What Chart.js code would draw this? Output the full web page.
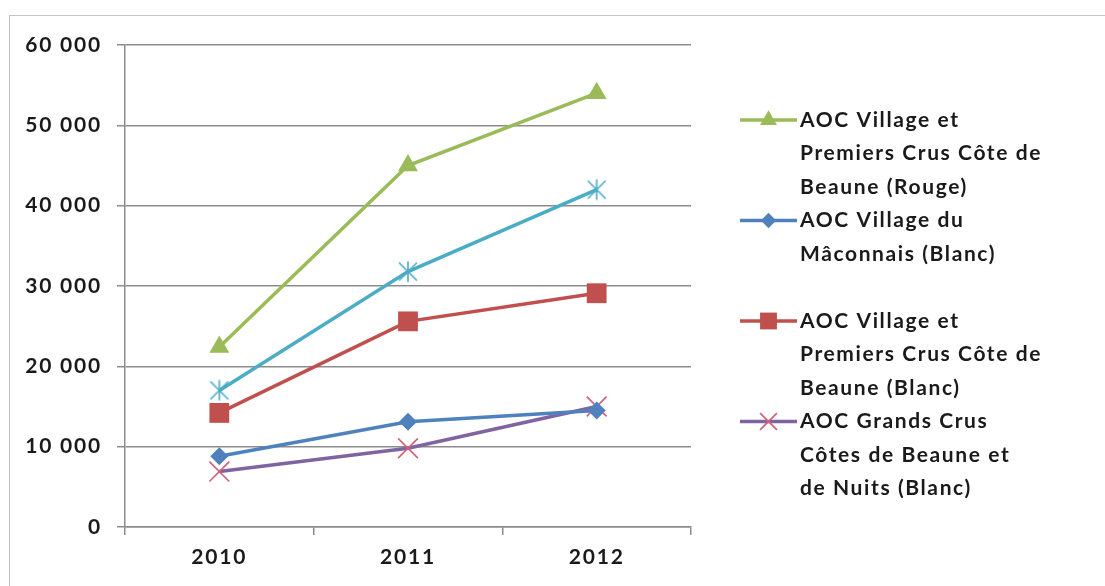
<!DOCTYPE html>
<html>
<head>
<meta charset="utf-8">
<script src="https://cdn.jsdelivr.net/npm/chart.js@4/dist/chart.umd.min.js"></script>
<style>
  html, body { margin: 0; padding: 0; background: #fff; overflow: hidden; }
  #frame { position: absolute; left: 9px; top: 15px; width: 1200px; height: 700px;
           border-left: 1.5px solid #c4c4c4; border-top: 1.5px solid #c4c4c4; }
  #wrap { position: absolute; left: 0; top: 0; width: 1105px; height: 586px; }
</style>
</head>
<body>
<div id="frame"></div>
<div id="wrap"><canvas id="c" width="1105" height="586"></canvas></div>
<script>
// Years on the horizontal axis
const years = ['2010', '2011', '2012'];

// Volumes per appellation
const rougeCoteBeaune = [22400, 45000, 54000];
const villageMaconnais = [8800, 13100, 14500];
const blancCoteBeaune = [14200, 25600, 29100];
const grandsCrusBlanc = [6900, 9800, 15000];
const cyanSeries = [17000, 31800, 42000];

// Y axis tick values
const yTicks = [0, 10000, 20000, 30000, 40000, 50000, 60000];

// Legend labels, one array of lines per entry (null = empty row)
const legendRows = [
  ['AOC Village et', 'Premiers Crus Côte de', 'Beaune (Rouge)'],
  ['AOC Village du', 'Mâconnais (Blanc)'],
  null,
  ['AOC Village et', 'Premiers Crus Côte de', 'Beaune (Blanc)'],
  ['AOC Grands Crus', 'Côtes de Beaune et', 'de Nuits (Blanc)']
];

const FONT = 'Lato';
const SPACING = '1.8px';
const LEGEND_SPACING = '1.6px';
const GREEN = '#9BBB59', BLUE = '#4F81BD', RED = '#C0504D', PURPLE = '#8064A2', CYAN = '#4BACC6';

// Asterisk-style marker: an X with a vertical stroke
function starMarker(color, r) {
  const s = Math.ceil(r * 2 + 4);
  const cv = document.createElement('canvas');
  cv.width = s; cv.height = s;
  const g = cv.getContext('2d');
  const c = s / 2;
  g.strokeStyle = color; g.lineWidth = 1.6;
  g.beginPath();
  g.moveTo(c - r, c - r); g.lineTo(c + r, c + r);
  g.moveTo(c + r, c - r); g.lineTo(c - r, c + r);
  g.moveTo(c, c - r * 1.15); g.lineTo(c, c + r * 1.15);
  g.stroke();
  return cv;
}

const fmt = v => String(v).replace(/\B(?=(\d{3})+(?!\d))/g, ' ');

const datasets = [
  { label: 'AOC Village et Premiers Crus Côte de Beaune (Blanc)', data: blancCoteBeaune,
    borderColor: RED, backgroundColor: RED, pointStyle: 'rect', pointRadius: 14,
    pointBorderWidth: 0, legendRow: 3 },
  { label: 'AOC Village du Mâconnais (Blanc)', data: villageMaconnais,
    borderColor: BLUE, backgroundColor: BLUE, pointStyle: 'rectRot', pointRadius: 9,
    pointBorderWidth: 0, legendRow: 1 },
  { label: 'AOC Grands Crus Côtes de Beaune et de Nuits (Blanc)', data: grandsCrusBlanc,
    borderColor: PURPLE, backgroundColor: RED, pointStyle: 'crossRot', pointRadius: 14,
    pointBorderColor: '#D0607A', pointBorderWidth: 1.6, legendRow: 4 },
  { label: '', data: cyanSeries,
    borderColor: CYAN, backgroundColor: CYAN, pointStyle: starMarker(CYAN, 9),
    legendRow: null },
  { label: 'AOC Village et Premiers Crus Côte de Beaune (Rouge)', data: rougeCoteBeaune,
    borderColor: GREEN, backgroundColor: GREEN, pointStyle: 'triangle', pointRadius: 11.5,
    pointBorderWidth: 0, legendRow: 0 }
].map(d => Object.assign({ borderWidth: 3.5, tension: 0, fill: false }, d));

// Wider letter spacing for every text drawn on the canvas
const textSpacing = {
  id: 'textSpacing',
  beforeDraw(chart) { chart.ctx.letterSpacing = SPACING; }
};

// Legend drawn at the right of the plot, with line + marker samples
const sideLegend = {
  id: 'sideLegend',
  afterDraw(chart) {
    const ctx = chart.ctx;
    const x0 = 740, x1 = 797, tx = 800, top = 120, lh = 33.5;
    let line = 0;
    legendRows.forEach((rows, idx) => {
      if (!rows) { line += 1; return; }
      const y = top + line * lh;
      const ds = chart.data.datasets.find(d => d.legendRow === idx);
      const meta = chart.getDatasetMeta(chart.data.datasets.indexOf(ds));
      ctx.save();
      ctx.strokeStyle = ds.borderColor; ctx.lineWidth = 3.5;
      ctx.beginPath(); ctx.moveTo(x0, y); ctx.lineTo(x1, y); ctx.stroke();
      const o = meta.data[0].options;
      ctx.fillStyle = o.backgroundColor;
      ctx.strokeStyle = o.borderColor;
      ctx.lineWidth = o.borderWidth;
      Chart.helpers.drawPoint(ctx, { pointStyle: o.pointStyle, radius: o.radius * 0.85,
        rotation: 0, borderWidth: o.borderWidth }, (x0 + x1) / 2, y);
      ctx.letterSpacing = LEGEND_SPACING;
      ctx.fillStyle = '#1a1a1a';
      ctx.font = 'bold 21px ' + FONT;
      ctx.textBaseline = 'middle';
      ctx.textAlign = 'left';
      rows.forEach((t, i) => ctx.fillText(t, tx, top + (line + i) * lh));
      ctx.restore();
      line += rows.length;
    });
  }
};

new Chart(document.getElementById('c'), {
  type: 'line',
  data: { labels: years, datasets },
  plugins: [textSpacing, sideLegend],
  options: {
    responsive: false,
    animation: false,
    devicePixelRatio: 1,
    layout: { padding: { left: 0, right: 414, top: 45, bottom: 0 } },
    plugins: { legend: { display: false }, tooltip: { enabled: false } },
    scales: {
      x: {
        offset: true,
        grid: { offset: true, drawOnChartArea: false, drawTicks: true, tickLength: 8,
                color: '#8c8c8c', lineWidth: 1.5 },
        border: { display: true, color: '#8c8c8c', width: 1.5 },
        ticks: { color: '#1a1a1a', font: { family: FONT, size: 21, weight: 'bold' }, padding: 10 },
        afterFit(s) { s.height = 59; }
      },
      y: {
        min: 0, max: 60000,
        afterBuildTicks(s) { s.ticks = yTicks.map(v => ({ value: v })); },
        grid: { color: '#8c8c8c', lineWidth: 1.5, drawTicks: true, tickLength: 8 },
        border: { display: true, color: '#8c8c8c', width: 1.5 },
        ticks: { color: '#1a1a1a', font: { family: FONT, size: 21, weight: 'bold' }, padding: 15,
                 callback: v => fmt(v) },
        afterFit(s) { s.width = 125; }
      }
    }
  }
});
</script>
</body>
</html>
